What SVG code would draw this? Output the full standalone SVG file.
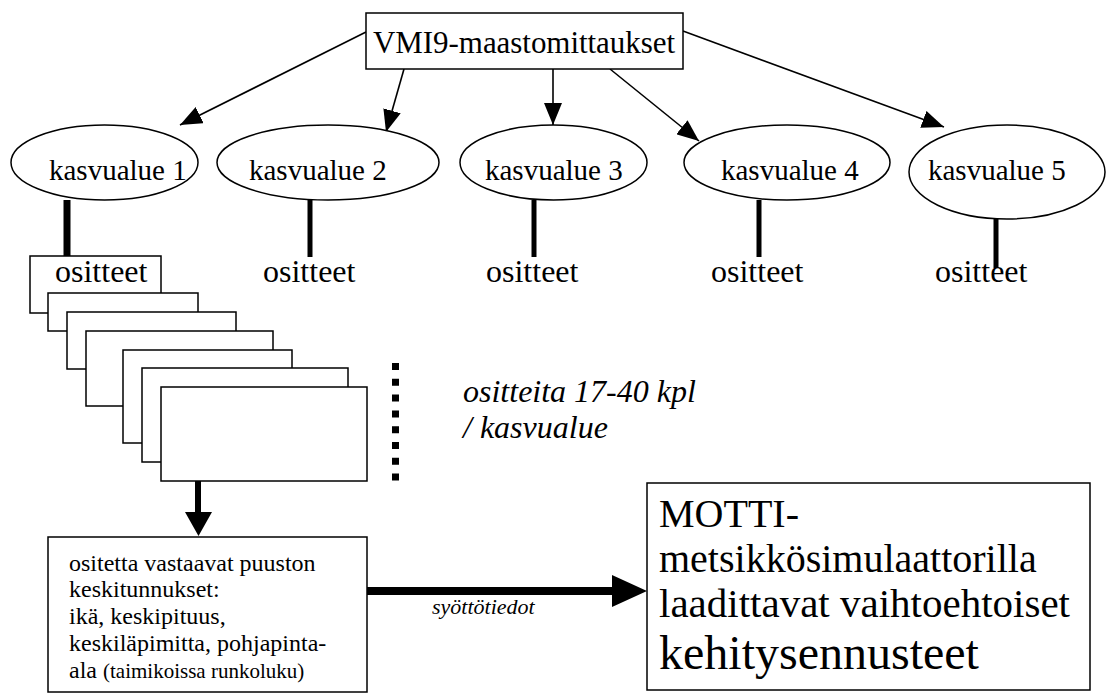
<svg xmlns="http://www.w3.org/2000/svg" width="1107" height="693" viewBox="0 0 1107 693">
<style>
.t{font-family:"Liberation Serif","Times New Roman",serif;fill:#000}
.k{font-size:29px}
.o{font-size:32px}
.i{font-style:italic}
.shape{fill:#fff;stroke:#000;stroke-width:1.5}
.thin{stroke:#000;stroke-width:1.6;fill:none}
.bar{stroke:#000;stroke-width:5;fill:none}
</style>
<defs>
<marker id="ah" markerUnits="userSpaceOnUse" markerWidth="22" markerHeight="18" refX="22" refY="9" orient="auto">
<path d="M0,0 L22,9 L0,18 z" fill="#000"/>
</marker>
</defs>
<rect width="1107" height="693" fill="#fff"/>

<g id="connectors">
<line class="thin" x1="366" y1="32" x2="180" y2="125" marker-end="url(#ah)"/>
<line class="thin" x1="404" y1="69" x2="386" y2="132" marker-end="url(#ah)"/>
<line class="thin" x1="553" y1="69" x2="553" y2="125" marker-end="url(#ah)"/>
<line class="thin" x1="610" y1="69" x2="699" y2="141" marker-end="url(#ah)"/>
<line class="thin" x1="683" y1="31" x2="944" y2="127" marker-end="url(#ah)"/>
<line x1="67" y1="200" x2="67" y2="257" stroke="#000" stroke-width="7"/>
<line class="bar" x1="310" y1="200" x2="310" y2="257"/>
<line class="bar" x1="534" y1="200" x2="534" y2="257"/>
<line class="bar" x1="759" y1="200" x2="759" y2="257"/>
<line x1="198" y1="481" x2="198" y2="514" stroke="#000" stroke-width="6"/>
<polygon points="185,512 212,512 198.5,536" fill="#000"/>
<line x1="367" y1="591" x2="613" y2="591" stroke="#000" stroke-width="8"/>
<polygon points="612,575 647,591 612,607" fill="#000"/>
<line x1="395.5" y1="363" x2="395.5" y2="481" stroke="#000" stroke-width="7" stroke-dasharray="7 8.8"/>
</g>

<g id="vmi9">
<rect class="shape" x="366" y="13" width="317" height="56"/>
<text class="t" x="373" y="53" font-size="31" textLength="302">VMI9-maastomittaukset</text>
</g>

<g id="kasvualue1">
<ellipse class="shape" cx="104.5" cy="162.5" rx="93.5" ry="37.5"/>
<text class="t k" x="49" y="180">kasvualue 1</text>
</g>
<g id="kasvualue2">
<ellipse class="shape" cx="328" cy="162.5" rx="111" ry="37.5"/>
<text class="t k" x="249" y="180">kasvualue 2</text>
</g>
<g id="kasvualue3">
<ellipse class="shape" cx="553.5" cy="162.5" rx="93.5" ry="37.5"/>
<text class="t k" x="485" y="180">kasvualue 3</text>
</g>
<g id="kasvualue4">
<ellipse class="shape" cx="787" cy="162.5" rx="103" ry="37.5"/>
<text class="t k" x="721" y="180">kasvualue 4</text>
</g>
<g id="kasvualue5">
<ellipse class="shape" cx="1007" cy="172" rx="98" ry="47"/>
<text class="t k" x="928" y="180">kasvualue 5</text>
</g>

<g id="ositteet-stack">
<rect class="shape" x="30" y="256" width="131" height="57"/>
<text class="t o" x="55" y="282">ositteet</text>
<rect class="shape" x="48" y="293" width="150" height="38"/>
<rect class="shape" x="67" y="312" width="169" height="57"/>
<rect class="shape" x="86" y="331" width="187" height="75"/>
<rect class="shape" x="123" y="350" width="169" height="93"/>
<rect class="shape" x="142" y="368" width="206" height="94"/>
<rect class="shape" x="161" y="387" width="206" height="94"/>
</g>

<g id="ositteet2"><text class="t o" x="263" y="282">ositteet</text></g>
<g id="ositteet3"><text class="t o" x="486" y="282">ositteet</text></g>
<g id="ositteet4"><text class="t o" x="711" y="282">ositteet</text></g>
<g id="ositteet5">
<text class="t o" x="935" y="282">ositteet</text>
<line class="bar" x1="996" y1="219" x2="996" y2="268"/>
</g>

<g id="note">
<text class="t i" font-size="32" x="463" y="402">ositteita 17-40 kpl</text>
<text class="t i" font-size="32" x="463" y="438">/ kasvualue</text>
</g>

<g id="keskitunnukset">
<rect class="shape" x="48" y="537" width="319" height="155"/>
<text class="t" font-size="24" x="69" y="571">ositetta vastaavat puuston</text>
<text class="t" font-size="24" x="69" y="597">keskitunnukset:</text>
<text class="t" font-size="24" x="69" y="624">ikä, keskipituus,</text>
<text class="t" font-size="24" x="69" y="651">keskiläpimitta, pohjapinta-</text>
<text class="t" font-size="24" x="69" y="678">ala <tspan font-size="21">(taimikoissa runkoluku)</tspan></text>
</g>

<g id="syottotiedot">
<text class="t i" font-size="22" x="432" y="614">syöttötiedot</text>
</g>

<g id="motti">
<rect class="shape" x="647" y="483" width="443" height="207"/>
<text class="t" font-size="40" x="659" y="527">MOTTI-</text>
<text class="t" font-size="40" x="659" y="572">metsikkösimulaattorilla</text>
<text class="t" font-size="41" x="659" y="617">laadittavat vaihtoehtoiset</text>
<text class="t" font-size="48" x="659" y="669">kehitysennusteet</text>
</g>
</svg>
